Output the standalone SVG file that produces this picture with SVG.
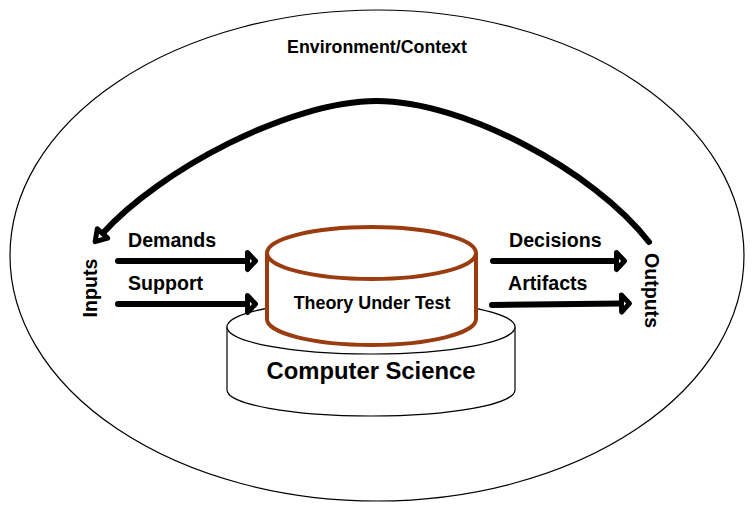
<svg xmlns="http://www.w3.org/2000/svg" width="754" height="512" viewBox="0 0 754 512">
<style>
text{font-family:"Liberation Sans",Arial,Helvetica,sans-serif;font-weight:bold;fill:#000}
.lbl{font-size:19.6px}
.conn{fill:none;stroke:#000;stroke-width:6;stroke-linecap:round}
.thin{fill:#fff;stroke:#000;stroke-width:1.2}
.rust{fill:#fff;stroke:#9b3b10;stroke-width:4}
</style>
<defs>
<marker id="ah" markerUnits="userSpaceOnUse" viewBox="-4 -14 18 28" markerWidth="18" markerHeight="28" refX="0" refY="0" orient="auto">
<path d="M0,-8.5 L8,0 L0,8.5 Z" fill="#fff" stroke="#000" stroke-width="5" stroke-linejoin="round"/>
</marker>
<marker id="ah2" markerUnits="userSpaceOnUse" viewBox="-4 -12 20 24" markerWidth="20" markerHeight="24" refX="0" refY="0" orient="auto">
<path d="M0,-7 L11,0 L0,7 Z" fill="#fff" stroke="#000" stroke-width="5" stroke-linejoin="round"/>
</marker>
</defs>
<g id="environment">
<ellipse cx="377" cy="255.5" rx="367" ry="245.5" fill="#fff" stroke="#000" stroke-width="1.2"/>
<text x="377" y="53" font-size="17.8" text-anchor="middle">Environment/Context</text>
</g>
<g id="computer-science">
<path class="thin" d="M227,327 L227,390 A144,26 0 0 0 515,390 L515,327"/>
<ellipse class="thin" cx="371" cy="327" rx="144" ry="27"/>
<text x="371" y="379" font-size="23.8" text-anchor="middle">Computer Science</text>
</g>
<g id="theory-under-test">
<path class="rust" d="M267,253 L267,319 A104.5,26 0 0 0 476,319 L476,253"/>
<ellipse class="rust" cx="371.5" cy="253" rx="104.5" ry="26"/>
<text x="372" y="309" font-size="17.9" text-anchor="middle">Theory Under Test</text>
</g>
<g id="inputs">
<text class="lbl" transform="translate(97,288) rotate(-90)" text-anchor="middle">Inputs</text>
</g>
<g id="outputs">
<text class="lbl" transform="translate(645,290.5) rotate(90)" text-anchor="middle">Outputs</text>
</g>
<g id="connectors">
<path class="conn" d="M649,242 C593,170 463,101 376.5,101 C290,101 160,170 102.5,233.5" stroke-width="5.5" marker-end="url(#ah2)"/>
<path class="conn" d="M118,261 L247.5,261" marker-end="url(#ah)"/>
<path class="conn" d="M118,304 L247.5,304" marker-end="url(#ah)"/>
<path class="conn" d="M493,261 L616.5,261" marker-end="url(#ah)"/>
<path class="conn" d="M492,305 L621.5,303.5" marker-end="url(#ah)"/>
<text class="lbl" x="128" y="247">Demands</text>
<text class="lbl" x="128" y="290">Support</text>
<text class="lbl" x="509" y="247">Decisions</text>
<text class="lbl" x="508" y="290">Artifacts</text>
</g>
</svg>
